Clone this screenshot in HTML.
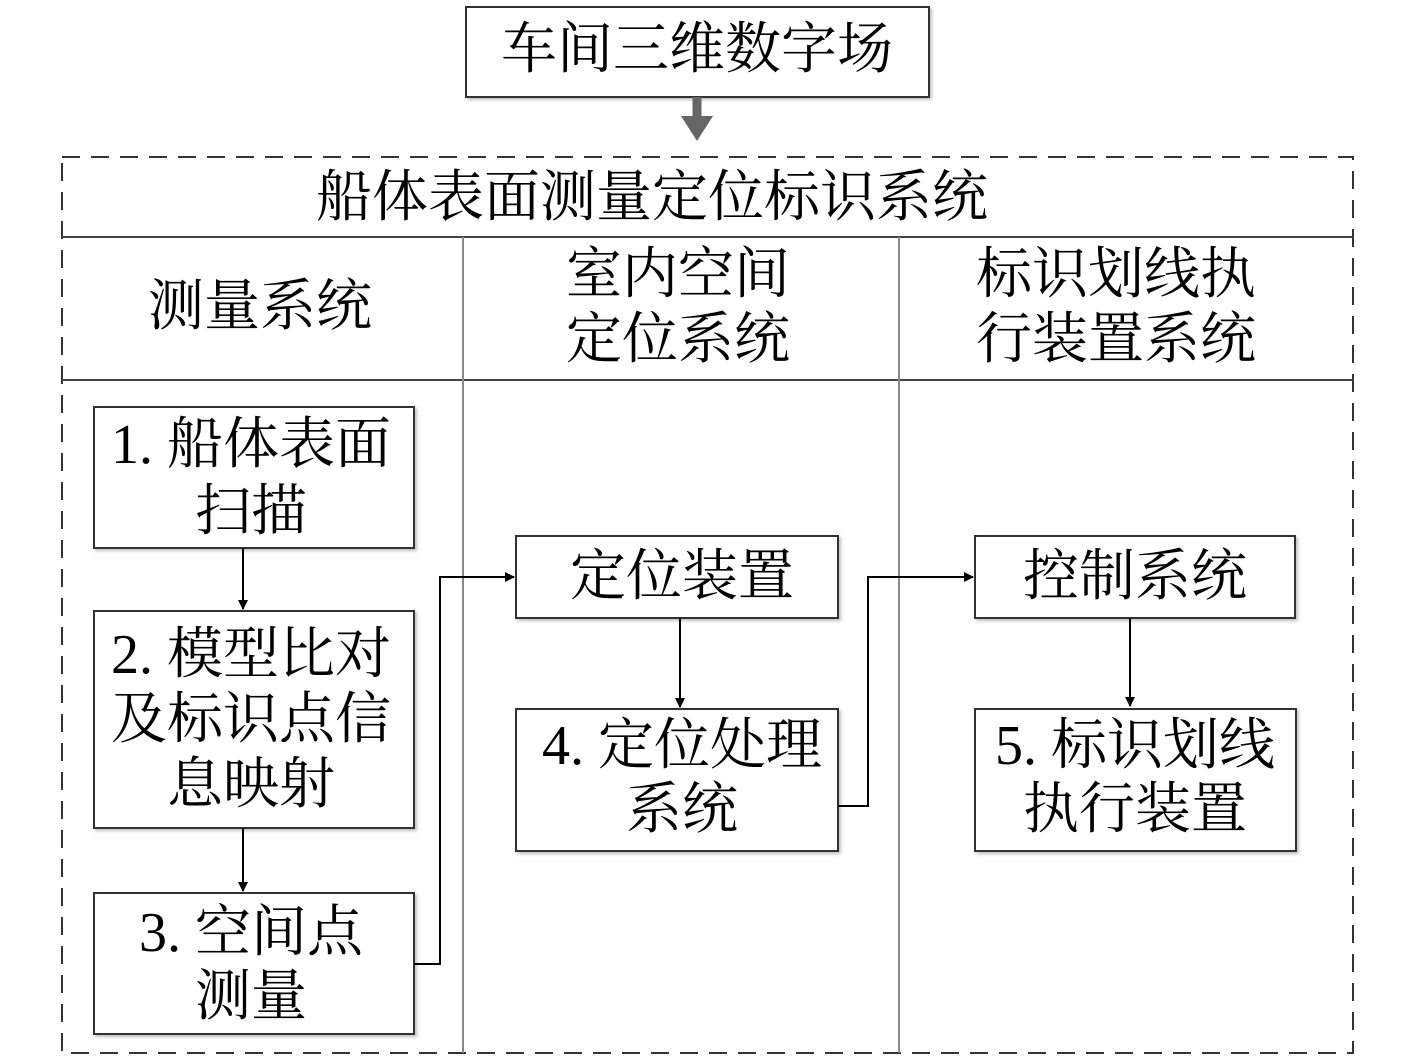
<!DOCTYPE html>
<html><head><meta charset="utf-8"><style>body{margin:0;background:#fff}svg{display:block}</style></head><body>
<svg width="1417" height="1063" viewBox="0 0 1417 1063" xmlns="http://www.w3.org/2000/svg" font-family="'Liberation Serif','Noto Serif CJK SC',serif" fill="#000">
<defs>
<marker id="a" markerWidth="10" markerHeight="10" refX="9" refY="5" orient="auto" markerUnits="userSpaceOnUse"><path d="M0,0 L10,5 L0,10 z" fill="#000"/></marker>
<filter id="s" x="-5%" y="-5%" width="110%" height="115%"><feDropShadow dx="2" dy="2" stdDeviation="1.5" flood-color="#000" flood-opacity="0.25"/></filter>
</defs>
<g stroke="#333" stroke-width="2" fill="#fff" filter="url(#s)">
<rect x="466" y="7" width="463" height="90"/>
<rect x="94" y="407" width="320" height="141"/>
<rect x="94" y="611" width="320" height="217"/>
<rect x="94" y="893" width="320" height="141"/>
<rect x="516" y="536" width="322" height="82"/>
<rect x="516" y="709" width="322" height="142"/>
<rect x="975" y="536" width="320" height="82"/>
<rect x="975" y="709" width="321" height="142"/>
</g>
<path d="M697,97 V118" stroke="#666" stroke-width="9"/>
<path d="M681,116 L713,116 L697,141 z" fill="#666"/>
<rect x="62" y="157" width="1291" height="896" fill="none" stroke="#333" stroke-width="2" stroke-dasharray="18,11"/>
<g stroke="#444" stroke-width="2">
<line x1="62" y1="237" x2="1353" y2="237"/>
<line x1="62" y1="380" x2="1353" y2="380"/>
</g>
<g stroke="#888" stroke-width="2">
<line x1="463" y1="237" x2="463" y2="1053"/>
<line x1="899" y1="237" x2="899" y2="1053"/>
</g>
<g stroke="#000" stroke-width="2" fill="none">
<path d="M243,548 V609" marker-end="url(#a)"/>
<path d="M243,828 V891" marker-end="url(#a)"/>
<path d="M414,964 H440 V577 H514" marker-end="url(#a)"/>
<path d="M680,618 V707" marker-end="url(#a)"/>
<path d="M838,806 H868 V577 H973" marker-end="url(#a)"/>
<path d="M1130,618 V706" marker-end="url(#a)"/>
</g>
<g font-size="56" text-anchor="middle" dominant-baseline="central">
<text x="697" y="50">车间三维数字场</text>
<text x="652" y="198">船体表面测量定位标识系统</text>
<text x="260" y="307">测量系统</text>
<text x="678" y="275">室内空间</text>
<text x="678" y="340">定位系统</text>
<text x="1116" y="275">标识划线执</text>
<text x="1116" y="340">行装置系统</text>
<text x="251" y="445">1. 船体表面</text>
<text x="251" y="512">扫描</text>
<text x="251" y="655">2. 模型比对</text>
<text x="251" y="720">及标识点信</text>
<text x="251" y="785">息映射</text>
<text x="251" y="933">3. 空间点</text>
<text x="251" y="997">测量</text>
<text x="682" y="577">定位装置</text>
<text x="682" y="746">4. 定位处理</text>
<text x="682" y="810">系统</text>
<text x="1135" y="577">控制系统</text>
<text x="1135" y="746">5. 标识划线</text>
<text x="1135" y="810">执行装置</text>
</g>
</svg>
</body></html>
